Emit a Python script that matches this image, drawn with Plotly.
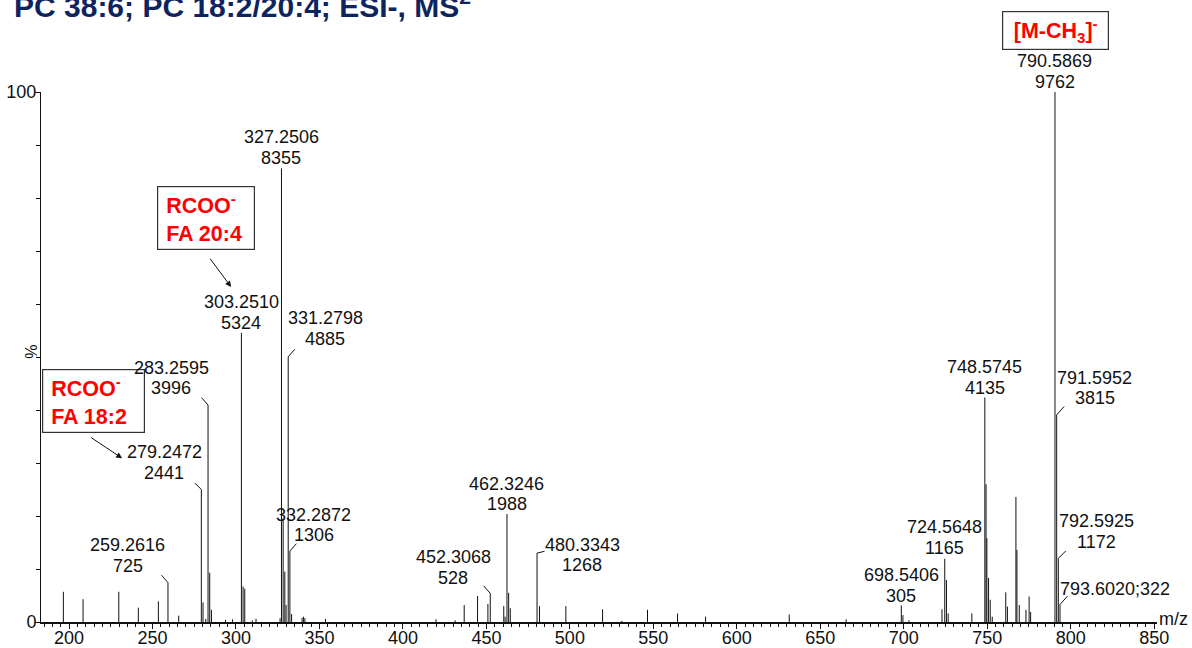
import plotly.graph_objects as go

# ---------------- data ----------------
BASE_COUNT = 9762  # base peak intensity (100 %)

peak_mz = [196.6, 208.4, 229.8, 241.5, 253.5, 259.2616, 265.7,
           279.2472, 280.25, 281.9, 283.2595, 284.26, 285.3, 293.7, 297.9,
           303.2510, 304.25, 305.25, 309.8, 312.0,
           326.4, 327.2506, 328.25, 329.25, 330.0, 331.2798, 332.2872, 333.3,
           339.6, 340.5, 341.3, 353.6,
           419.8, 431.3, 436.7, 444.7, 450.9, 452.3068, 460.4, 461.2,
           462.3246, 463.33, 464.3, 480.3343, 481.8, 497.6, 519.6, 531.1,
           546.5, 564.5, 581.3, 631.4, 665.5,
           698.5406, 699.5, 703.1, 722.9, 724.5648, 725.57, 726.6, 740.8,
           748.5745, 749.3, 749.8, 750.8, 751.8, 753.0,
           761.1, 762.1, 767.2, 767.8, 769.2, 773.2, 775.1, 776.0,
           790.5869, 791.5952, 792.5925, 793.6020]
peak_pct = [5.7, 4.3, 5.7, 2.7, 3.9, 7.43, 1.2,
            25.0, 3.7, 0.6, 40.93, 9.3, 2.3, 0.4, 0.5,
            54.54, 6.7, 6.3, 0.3, 0.6,
            0.7, 85.59, 19.5, 9.5, 3.2, 50.04, 13.38, 1.5,
            0.8, 1.0, 0.7, 0.6,
            0.5, 0.3, 3.2, 4.9, 3.4, 5.41, 3.0, 1.0,
            20.37, 5.5, 2.6, 12.99, 3.0, 3.0, 2.4, 0.2,
            2.3, 1.6, 1.0, 1.4, 0.5,
            3.12, 1.3, 0.3, 2.4, 11.93, 7.9, 1.6, 1.6,
            42.36, 26.0, 15.8, 8.3, 4.2, 1.0,
            5.6, 2.9, 23.6, 13.6, 3.2, 2.3, 4.8, 1.9,
            100.0, 39.08, 12.01, 3.30]

# labelled peaks
label_mz = ["790.5869", "327.2506", "303.2510", "331.2798", "283.2595", "279.2472",
            "332.2872", "259.2616", "462.3246", "452.3068", "480.3343", "748.5745",
            "724.5648", "698.5406", "791.5952", "792.5925", "793.6020"]
label_count = [9762, 8355, 5324, 4885, 3996, 2441, 1306, 725, 1988, 528, 1268,
               4135, 1165, 305, 3815, 1172, 322]
label_oneline = ["793.6020"]

x_ticks = [200, 250, 300, 350, 400, 450, 500, 550, 600, 650, 700, 750, 800, 850]
y_ticks = [0, 100]

TITLE = "PC 38:6; PC 18:2/20:4; ESI-, MS<sup>2</sup>"

# label placement: centre offset from peak top (px, y down) and leader end (px) or None
label_pos = {
    "790.5869": ((0, -20.5), None),
    "327.2506": ((0, -21), None),
    "303.2510": ((0, -20.5), None),
    "331.2798": ((37, -28), (7, -8)),
    "283.2595": ((-37, -27), (-7, -8)),
    "279.2472": ((-37, -27), (-7, -7)),
    "332.2872": ((24, -26), (7, -8)),
    "259.2616": ((-40, -27), (-7, -8)),
    "462.3246": ((0, -20), None),
    "452.3068": ((-37, -26), (-7, -8)),
    "480.3343": ((45, 2), (8, -2)),
    "748.5745": ((0, -20), None),
    "724.5648": ((0, -21), None),
    "698.5406": ((0, -20), None),
    "791.5952": ((38, -27), (8, -9)),
    "792.5925": ((38, -27), (8, -8)),
    "793.6020": ((55, -16), (8, -9)),
}

# ---------------- figure ----------------
xs, ys = [], []
for m, p in zip(peak_mz, peak_pct):
    xs += [m, m, None]
    ys += [0, p, None]

fig = go.Figure()
fig.add_trace(go.Scatter(x=xs, y=ys, mode="lines",
                         line=dict(color="#111111", width=1),
                         hoverinfo="skip", showlegend=False))

FONT = "Liberation Sans, Arial, sans-serif"
LBL = dict(family=FONT, size=18, color="#111111")
HALF = 10.3
ann = []

RED = "#ff0000"
box_font = dict(family=FONT, size=21.5, color=RED)
NB = "\u00a0"
ann.append(dict(x=214.7, y=41.7, xref="x", yref="y",
                text=f"<b>{NB}RCOO<sup>-</sup><br>{NB}FA 18:2</b>", showarrow=False,
                align="left", width=97, height=58, borderpad=2,
                bordercolor="#333333", borderwidth=1.2, bgcolor="rgba(0,0,0,0)",
                font=box_font))
ann.append(dict(x=231.8, y=30.9, xref="x", yref="y", text=" ", showarrow=True,
                arrowhead=2, arrowsize=1.2, arrowwidth=1, arrowcolor="#111111",
                ax=-33, ay=-22, font=dict(size=2)))
ann.append(dict(x=282.1, y=76.2, xref="x", yref="y",
                text=f"<b>{NB}RCOO<sup>-</sup><br>{NB}FA 20:4</b>", showarrow=False,
                align="left", width=92, height=58, borderpad=2,
                bordercolor="#333333", borderwidth=1.2, bgcolor="rgba(0,0,0,0)",
                font=box_font))
ann.append(dict(x=297.1, y=63.2, xref="x", yref="y", text=" ", showarrow=True,
                arrowhead=2, arrowsize=1.2, arrowwidth=1, arrowcolor="#111111",
                ax=-23, ay=-31, font=dict(size=2)))
ann.append(dict(x=0.909, y=1.116, xref="paper", yref="paper",
                text="<b>[M-CH<sub>3</sub>]<sup>-</sup></b>", showarrow=False,
                xanchor="center", yanchor="middle",
                width=101, height=33, borderpad=2,
                bordercolor="#333333", borderwidth=1.2, bgcolor="white",
                font=box_font))

for t, c in zip(label_mz, label_count):
    m = float(t)
    p = c / BASE_COUNT * 100
    (dx, dy), lead = label_pos[t]
    if t in label_oneline:
        ann.append(dict(x=m, y=p, xref="x", yref="y", text=f"{t};{c}", showarrow=False,
                        xanchor="center", yanchor="middle", xshift=dx, yshift=-dy, font=LBL))
    else:
        ann.append(dict(x=m, y=p, xref="x", yref="y", text=t, showarrow=False,
                        xanchor="center", yanchor="middle", xshift=dx, yshift=-(dy - HALF),
                        font=LBL))
        ann.append(dict(x=m, y=p, xref="x", yref="y", text=str(c), showarrow=False,
                        xanchor="center", yanchor="middle", xshift=dx, yshift=-(dy + HALF),
                        font=LBL))
    if lead is not None:
        ann.append(dict(x=m, y=p, xref="x", yref="y", text=" ", showarrow=True,
                        arrowhead=0, arrowwidth=1, arrowcolor="#111111",
                        ax=lead[0], ay=lead[1], standoff=0, startstandoff=0,
                        borderpad=0, font=dict(size=1)))

# axis titles / title
ann.append(dict(x=1.0, y=0.006, xref="paper", yref="paper", text="m/z",
                showarrow=False, xanchor="left", yanchor="middle", xshift=0,
                font=dict(family=FONT, size=18, color="#111111")))
ann.append(dict(x=-0.008, y=0.51, xref="paper", yref="paper", text="%",
                showarrow=False, textangle=-90, xanchor="center", yanchor="middle",
                font=dict(family=FONT, size=16, color="#111111")))
ann.append(dict(x=-0.026, y=1.1264, xref="paper", yref="paper", text="<b>" + TITLE + "</b>",
                showarrow=False, xanchor="left", yanchor="bottom",
                font=dict(family=FONT, size=30, color="#0d2460")))

fig.update_layout(
    width=1192, height=648,
    margin=dict(l=41, r=35, t=92, b=26, autoexpand=False),
    plot_bgcolor="white", paper_bgcolor="white",
    annotations=ann,
    xaxis=dict(range=[183.2, 851.7], showgrid=False, zeroline=False, automargin=False,
               showline=True, linecolor="#111111", linewidth=2,
               ticks="outside", tickvals=x_ticks, ticklen=5, tickwidth=1,
               tickcolor="#111111", ticklabelstandoff=-7,
               tickfont=dict(family=FONT, size=18, color="#111111"),
               minor=dict(ticks="outside", dtick=5, tick0=0, ticklen=3,
                          tickcolor="#111111", showgrid=False)),
    yaxis=dict(range=[0, 100], showgrid=False, zeroline=False, automargin=False,
               showline=True, linecolor="#111111", linewidth=1,
               ticks="outside", tickvals=y_ticks, ticklen=5, tickwidth=1,
               tickcolor="#111111", ticklabelstandoff=-5,
               tickfont=dict(family=FONT, size=18, color="#111111"),
               minor=dict(ticks="outside", dtick=10, tick0=0, ticklen=4,
                          tickcolor="#111111", showgrid=False)),
)

fig.write_html("out.html", config={"displayModeBar": False},
               post_script="document.body.style.margin='0';document.body.style.overflow='hidden';")
